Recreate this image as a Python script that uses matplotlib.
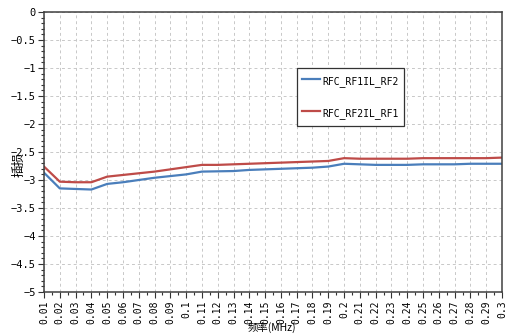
import numpy as np
import matplotlib
matplotlib.use("Agg")
from matplotlib import pyplot as plt
from matplotlib.ticker import MultipleLocator, FixedLocator

plt.rcParams['font.family'] = ['DejaVu Sans Mono', 'Noto Sans CJK SC']

freq = [0.01, 0.02, 0.03, 0.04, 0.05, 0.06, 0.07, 0.08, 0.09, 0.10,
        0.11, 0.12, 0.13, 0.14, 0.15, 0.16, 0.17, 0.18, 0.19, 0.20,
        0.21, 0.22, 0.23, 0.24, 0.25, 0.26, 0.27, 0.28, 0.29, 0.30]

il_rf1_rf2 = [-2.87, -3.15, -3.16, -3.17, -3.07, -3.04, -3.00, -2.96, -2.93, -2.90,
              -2.85, -2.845, -2.84, -2.82, -2.81, -2.80, -2.79, -2.78, -2.76, -2.71,
              -2.72, -2.73, -2.73, -2.73, -2.72, -2.72, -2.72, -2.71, -2.71, -2.71]

il_rf2_rf1 = [-2.76, -3.03, -3.04, -3.04, -2.94, -2.91, -2.88, -2.85, -2.81, -2.77,
              -2.73, -2.73, -2.72, -2.71, -2.70, -2.69, -2.68, -2.67, -2.66, -2.61,
              -2.62, -2.62, -2.62, -2.62, -2.61, -2.61, -2.61, -2.61, -2.61, -2.60]

series_names = ['RFC_RF1IL_RF2', 'RFC_RF2IL_RF1']
y_ticks = [0, -0.5, -1, -1.5, -2, -2.5, -3, -3.5, -4, -4.5, -5]

fig = plt.figure(figsize=(5.06, 3.35), dpi=100)
ax = fig.add_axes([44 / 506, 1 - 292 / 335, 458 / 506, 280 / 335])

ax.plot(freq, il_rf1_rf2, color='#4a7ebb', lw=1.6, label=series_names[0])
ax.plot(freq, il_rf2_rf1, color='#be4b48', lw=1.6, label=series_names[1])

ax.set_xlim(freq[0], freq[-1])
ax.set_ylim(-5, 0)

# one tick per frequency step, minor ticks halfway between
ax.xaxis.set_major_locator(FixedLocator(freq))
ax.set_xticklabels([f"{v:g}" for v in freq], rotation=90, fontsize=7)
mids = [(a + b) / 2 for a, b in zip(freq[:-1], freq[1:])]
ax.xaxis.set_minor_locator(FixedLocator(mids))

ax.set_yticks(y_ticks)
ax.set_yticklabels([f"{v:g}".replace('-', '\u2212') for v in y_ticks], fontsize=7.5)
ax.yaxis.set_minor_locator(MultipleLocator(0.1))

ax.tick_params(which='major', direction='out', length=4, width=0.8, color='#333333', pad=2)
ax.tick_params(which='minor', direction='out', length=2, width=0.8, color='#333333')

ax.grid(True, which='major', ls=(0, (3, 3)), color='#c8c8c8', lw=0.7)

for s in ax.spines.values():
    s.set_color('#404040')
    s.set_linewidth(1.1)

ax.set_xlabel('频率(MHz)', family=['Noto Sans CJK SC', 'DejaVu Sans'], fontsize=7.5)
ax.xaxis.set_label_coords(0.498, -0.108)
ax.set_ylabel('插损', family=['Noto Sans CJK SC', 'DejaVu Sans'], fontsize=9)
ax.yaxis.set_label_coords(-0.04, 0.457)

leg = ax.legend(loc='center', bbox_to_anchor=(0.669, 0.696), fontsize=7,
                fancybox=False, edgecolor='#333333', framealpha=1,
                labelspacing=1.7, handlelength=1.85, handleheight=2.0,
                handletextpad=0.15, borderpad=0.6, borderaxespad=0)
leg.get_frame().set_linewidth(0.9)

fig.savefig('out.png', dpi=100)
